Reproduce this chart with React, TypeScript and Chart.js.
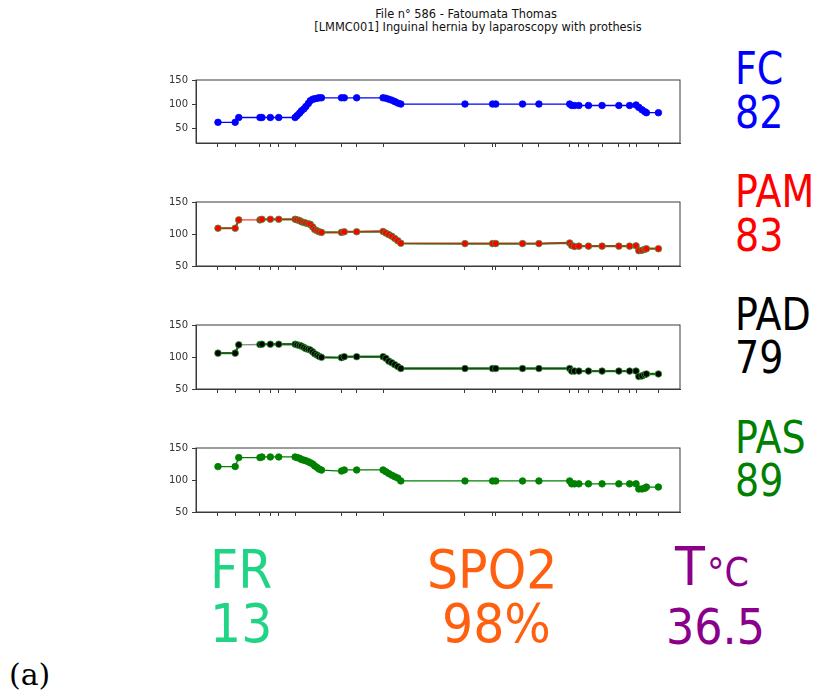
import React, { useEffect, useRef } from 'react';
import { Chart, registerables } from 'chart.js';
Chart.register(...registerables);

// time of each measurement (minutes from start)
const times = [0, 4.3, 5.2, 10.5, 11, 13.1, 15.2, 19.3,
  19.8, 20.4, 20.9, 21.5, 22.0, 22.6, 23.1, 23.7, 24.2, 24.8, 25.3, 25.9,
  30.9, 31.6, 34.7, 41.3,
  42, 42.75, 43.5, 44.25, 45, 45.75,
  61.8, 68.7, 69.5, 76.2, 80.3, 88,
  88.5, 89.2,
  90.3, 92.7, 96.1, 100.3, 103,
  104.6,
  105.3, 106.1, 106.8, 107.2,
  110.2];

const tickTimes = [0, 4.3, 10.5, 13.1, 15.2, 19.3, 30.9, 34.7, 41.3, 61.8, 68.7, 69.5, 76.2, 80.3, 88, 90.3, 92.7, 96.1, 100.3, 103, 104.6, 110.2];

const fcValues = [62, 62, 72, 72, 72, 72, 72, 72,
  76, 81, 86, 90, 95, 101, 107, 110, 111, 112, 113, 113,
  113, 113, 113, 113,
  112, 110, 108, 105, 102, 100,
  100, 100, 100, 100, 100, 100,
  97, 97,
  97, 97, 97, 97, 97,
  98,
  93, 88, 84, 82,
  82];

const pamValues = [109, 109, 122, 122, 123, 123, 123, 123,
  122, 121, 119, 118, 117, 116, 115, 111, 107, 105, 103.5, 102.5,
  102.5, 103.5, 103.5, 104,
  101.5, 99, 96.5, 93, 89.5, 85.5,
  85, 85, 85, 85, 85, 86,
  82, 80.5,
  81, 81, 81, 81, 81,
  81.5,
  74, 74.5, 76, 77,
  77];

const padValues = [106, 106, 119, 119.5, 120, 120, 120, 120,
  119, 118, 117, 115, 113, 112, 111, 108, 105, 103, 101, 99.5,
  99, 100.5, 100.5, 100.5,
  98, 93.5, 91, 88, 85, 82,
  82, 82, 82, 82, 82, 82,
  78, 78,
  78, 78, 78, 78, 78,
  78,
  69.5, 70.5, 72.5, 73.5,
  73.5];

const pasValues = [121, 121, 135, 135, 136, 136, 136, 136,
  135, 134, 132, 131, 130, 128.5, 127, 125, 122, 119.5, 117, 115.5,
  114, 115.7, 115.7, 115.7,
  113, 110, 107.5, 105, 103, 98.5,
  98.5, 98.5, 98.5, 98.5, 98.5, 98.5,
  94, 94,
  94, 94, 94, 94, 94,
  94,
  86, 86, 87, 89,
  89];

const yTicks = [50, 100, 150];

const titleLine1 = 'File n° 586 - Fatoumata Thomas';
const titleLine2 = '[LMMC001] Inguinal hernia by laparoscopy with prothesis';

const boxPlugin = {
  id: 'boxFrame',
  afterDraw(chart: any) {
    const { ctx, chartArea: a } = chart;
    ctx.save();
    ctx.strokeStyle = '#3a3a3a';
    ctx.lineWidth = 1;
    ctx.strokeRect(a.left, a.top, a.right - a.left, a.bottom - a.top);
    ctx.restore();
  },
};

type MiniProps = {
  top: number;
  plotH: number;
  yMin: number;
  values: number[];
  lineColor: string;
  pointColor: string;
  pointBorder: string;
  underColor?: string;
  underWidth?: number;
};

function MiniChart({ top, plotH, yMin, values, lineColor, pointColor, pointBorder, underColor, underWidth = 2.4 }: MiniProps) {
  const ref = useRef<HTMLCanvasElement>(null);
  const W = 540;
  const H = 10 + plotH + 8;
  useEffect(() => {
    if (!ref.current) return;
    const pts = times.map((t, i) => ({ x: t, y: values[i] }));
    const datasets: any[] = [
      {
        data: pts,
        borderColor: lineColor,
        borderWidth: 1.3,
        pointRadius: 3.3,
        pointBackgroundColor: pointColor,
        pointBorderColor: pointBorder,
        pointBorderWidth: 0.8,
        order: 1,
      },
    ];
    if (underColor) {
      datasets.push({
        data: pts,
        borderColor: underColor,
        borderWidth: underWidth,
        pointRadius: 0,
        order: 2,
        segment: {
          borderColor: (ctx: any) => (ctx.p0DataIndex === 2 ? 'rgba(0,0,0,0)' : underColor),
        },
      });
    }
    const chart = new Chart(ref.current, {
      type: 'line',
      data: { datasets },
      options: {
        animation: false,
        responsive: false,
        devicePixelRatio: 1,
        layout: { padding: { top: 10, right: 10, left: 0, bottom: 0 } },
        plugins: { legend: { display: false }, tooltip: { enabled: false } },
        scales: {
          x: {
            type: 'linear',
            min: -5.5,
            max: 115.6,
            afterBuildTicks: (s: any) => {
              s.ticks = tickTimes.map((v) => ({ value: v }));
            },
            afterFit: (s: any) => {
              s.height = 8;
            },
            ticks: { display: false },
            grid: { drawOnChartArea: false, drawTicks: true, tickLength: 4, color: '#3a3a3a' },
            border: { display: true, color: '#3a3a3a' },
          },
          y: {
            type: 'linear',
            min: yMin,
            max: 150,
            afterBuildTicks: (s: any) => {
              s.ticks = yTicks.map((v) => ({ value: v }));
            },
            afterFit: (s: any) => {
              s.width = 46;
            },
            ticks: { font: { family: 'DejaVu Sans', size: 10 }, color: '#333', padding: 4 },
            grid: { drawOnChartArea: false, drawTicks: true, tickLength: 4, color: '#3a3a3a' },
            border: { display: true, color: '#3a3a3a' },
          },
        },
      },
      plugins: [boxPlugin],
    } as any);
    return () => chart.destroy();
  }, []);
  return (
    <canvas
      ref={ref}
      width={W}
      height={H}
      style={{ position: 'absolute', left: 150, top: top - 10, width: W, height: H }}
    />
  );
}

function Txt({ x, baseline, size, color, text, family = 'DejaVu Sans', center = false, sy = 1 }: any) {
  const asc = 0.846 * size;
  return (
    <div
      style={{
        position: 'absolute',
        left: x,
        top: baseline - asc,
        fontFamily: family,
        fontSize: size,
        lineHeight: `${size}px`,
        color,
        whiteSpace: 'nowrap',
        transform: `${center ? 'translateX(-50%) ' : ''}scaleY(${sy})`,
        transformOrigin: `50% ${asc}px`,
      }}
    >
      {text}
    </div>
  );
}

export default function App() {
  const big = 38;
  const bot = 49;
  return (
    <div style={{ position: 'fixed', left: 0, top: 0, width: 817, height: 693, background: '#fff', overflow: 'hidden' }}>
      <Txt x={466} baseline={19} size={11.4} color="#111" text={titleLine1} center />
      <Txt x={478} baseline={32} size={11.4} color="#111" text={titleLine2} center />

      <MiniChart top={80} plotH={65} yMin={19} values={fcValues} lineColor="#0000ff" pointColor="#0000ff" pointBorder="#0000ff" />
      <MiniChart top={202} plotH={66} yMin={50} values={pamValues} lineColor="rgba(230,20,0,0.8)" pointColor="#ff0000" pointBorder="#3a9a3a" underColor="#2f8a2f" underWidth={2.2} />
      <MiniChart top={325} plotH={66} yMin={50} values={padValues} lineColor="rgba(0,0,0,0.45)" pointColor="#000000" pointBorder="#2e9a2e" underColor="#2a8a2a" />
      <MiniChart top={448} plotH={66} yMin={50} values={pasValues} lineColor="#008000" pointColor="#008000" pointBorder="#008000" />

      <Txt x={735} baseline={84} size={big} color="#0000ff" text="FC" sy={1.15} />
      <Txt x={735} baseline={128} size={big} color="#0000ff" text="82" sy={1.15} />
      <Txt x={735} baseline={207} size={big} color="#ff0000" text="PAM" sy={1.15} />
      <Txt x={735} baseline={251} size={big} color="#ff0000" text="83" sy={1.15} />
      <Txt x={735} baseline={330} size={big} color="#000000" text="PAD" sy={1.15} />
      <Txt x={735} baseline={373} size={big} color="#000000" text="79" sy={1.15} />
      <Txt x={735} baseline={453} size={big} color="#008000" text="PAS" sy={1.15} />
      <Txt x={735} baseline={496} size={big} color="#008000" text="89" sy={1.15} />

      <Txt x={210} baseline={588} size={bot} color="#1fd485" text="FR" sy={1.1} />
      <Txt x={210} baseline={642} size={bot} color="#1fd485" text="13" sy={1.1} />
      <Txt x={427} baseline={588} size={bot} color="#ff6010" text="SPO2" sy={1.1} />
      <Txt x={442} baseline={642} size={bot} color="#ff6010" text="98%" sy={1.1} />
      <Txt x={675} baseline={585} size={bot} color="#8b008b" text="T" sy={1.1} />
      <Txt x={707} baseline={587} size={35} color="#8b008b" text="°C" sy={1.1} />
      <Txt x={666} baseline={645} size={44.5} color="#8b008b" text="36.5" sy={1.1} />

      <Txt x={9} baseline={685} size={30} color="#000" text="(a)" family="'DejaVu Serif', serif" />
    </div>
  );
}
